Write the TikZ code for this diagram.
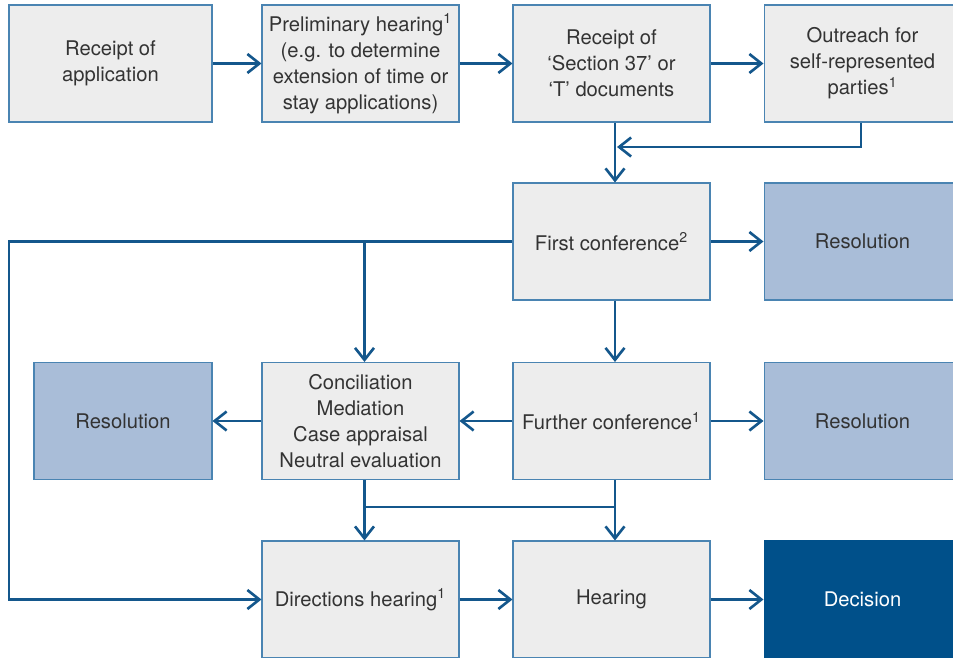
\documentclass[tikz,border=0pt]{standalone}
\usepackage{fontspec}
\setmainfont{TeX Gyre Heros}
\usepackage{xcolor}
\usetikzlibrary{arrows.meta,positioning}
\definecolor{boxfill}{HTML}{EDEDED}
\definecolor{boxline}{HTML}{4A84B2}
\definecolor{flowblue}{HTML}{14578C}
\definecolor{resfill}{HTML}{A9BDD8}
\definecolor{decfill}{HTML}{00508A}
\definecolor{textgrey}{HTML}{333333}

\begin{document}
\begin{tikzpicture}[x=0.02cm,y=-0.02cm,
                    stage/.style={draw=boxline, fill=boxfill, line width=0.6pt, minimum width=3.94cm, minimum height=2.34cm, align=center, text=textgrey, inner sep=2pt, font=\fontsize{11.5}{14.8}\selectfont},
                    result/.style={stage, fill=resfill},
                    final/.style={stage, fill=decfill, draw=decfill, text=white},
                    flow/.style={draw=flowblue, line width=1.5pt, -{Straight Barb[length=0.24cm,width=0.38cm]}},
                    link/.style={draw=flowblue, line width=1.5pt}]
                    \useasboundingbox (0,0) rectangle (953,658);

                    \node[stage, minimum width=4.06cm] (receipt) at (110.5,63.5) {Receipt of\\application};
                    \node[stage] (prelim) at (360.5,63.5) {Preliminary hearing\textsuperscript{1}\\(e.g. to determine\\extension of time or\\stay applications)};
                    \node[stage] (docs) at (611.5,63.5) {Receipt of\\‘Section 37’ or\\‘T’ documents};
                    \node[stage] (outreach) at (862.5,63.5) {Outreach for\\self-represented\\parties\textsuperscript{1}};

                    \node[stage] (first) at (611.5,241.5) {First conference\textsuperscript{2}};
                    \node[result] (res1) at (862.5,241.5) {Resolution};

                    \node[result, minimum width=3.56cm] (res2) at (123,421) {Resolution};
                    \node[stage] (concil) at (360.5,421) {Conciliation\\Mediation\\Case appraisal\\Neutral evaluation};
                    \node[stage] (further) at (611.5,421) {Further conference\textsuperscript{1}};
                    \node[result] (res3) at (862.5,421) {Resolution};

                    \node[stage] (dirs) at (360.5,599.5) {Directions hearing\textsuperscript{1}};
                    \node[stage] (hearing) at (611.5,599.5) {Hearing};
                    \node[final] (decision) at (862.5,599.5) {Decision};

                    \coordinate (join) at (617,147);
                    \coordinate (loop) at (9,241.5);
                    \coordinate (merge) at (0,507);

                    \draw[flow] (receipt) -- (prelim);
                    \draw[flow] (prelim) -- (docs);
                    \draw[flow] (docs) -- (outreach);
                    \draw[flow] ([xshift=0.07cm]docs.south) -- ([xshift=0.07cm]first.north);
                    \draw[flow] ([xshift=-0.03cm]outreach.south) |- (join);
                    \draw[flow] (first) -- (res1);
                    \draw[flow] (first.west) -- (loop) |- (dirs.west);
                    \draw[flow] ([xshift=0.08cm]first.west -| concil.north) -- ([xshift=0.08cm]concil.north);
                    \draw[flow] ([xshift=0.07cm]first.south) -- ([xshift=0.07cm]further.north);
                    \draw[flow] (further) -- (concil);
                    \draw[flow] (further) -- (res3);
                    \draw[flow] (concil) -- (res2);
                    \draw[flow] ([xshift=0.08cm]concil.south) -- ([xshift=0.08cm]dirs.north);
                    \draw[flow] ([xshift=0.07cm]further.south) -- ([xshift=0.07cm]hearing.north);
                    \draw[link] ([xshift=0.08cm]concil.south |- merge) -- ([xshift=0.07cm]further.south |- merge);
                    \draw[flow] (dirs) -- (hearing);
                    \draw[flow] (hearing) -- (decision);
                \end{tikzpicture}
\end{document}
